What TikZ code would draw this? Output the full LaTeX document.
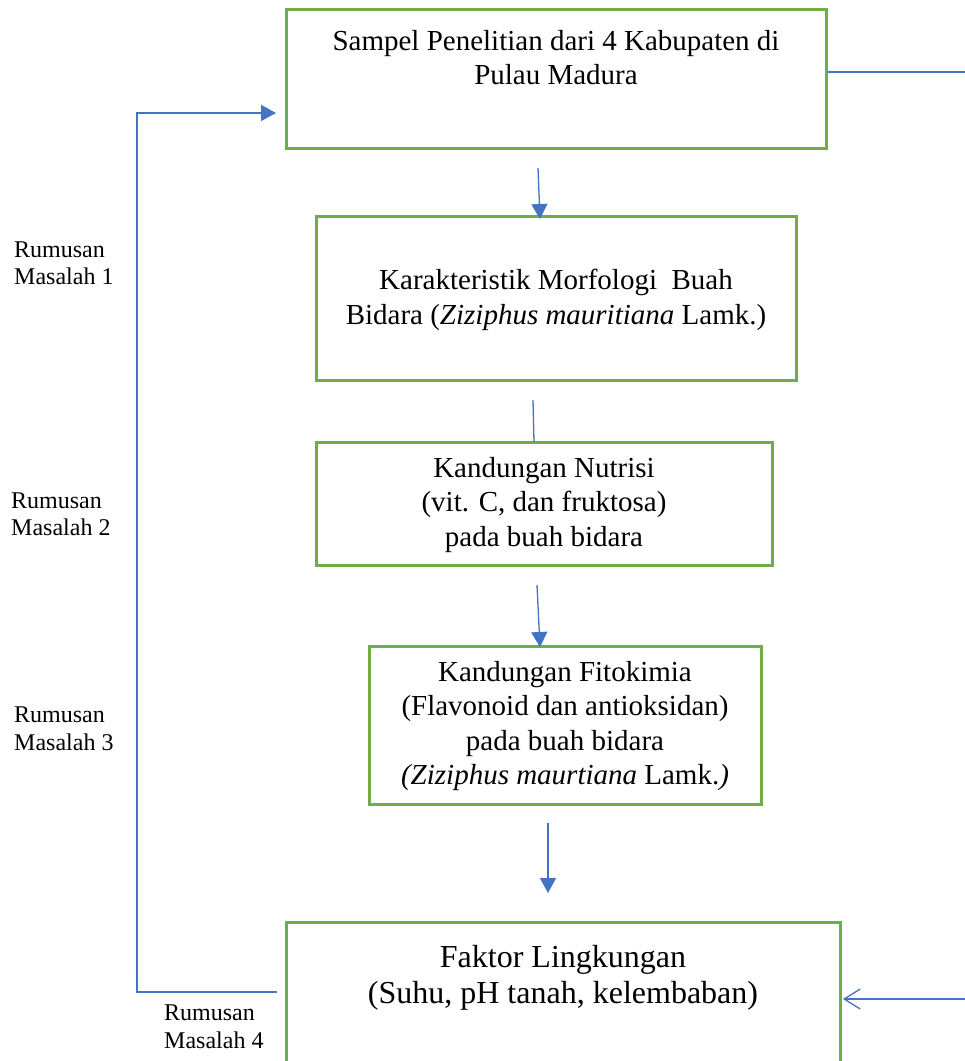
\documentclass[tikz,border=0pt]{standalone}
\usepackage{fontspec}
\setmainfont{Liberation Serif}
\usetikzlibrary{arrows.meta}
\definecolor{grn}{HTML}{70AD47}
\definecolor{blu}{HTML}{4472C4}
\begin{document}
\begin{tikzpicture}[x=1pt,y=-1pt,
  box/.style={draw=grn, line width=3pt, inner sep=0pt},
  txt/.style={align=center, font=\fontsize{29}{34.5}\selectfont, inner sep=0pt},
  bigtxt/.style={align=center, font=\fontsize{32}{36}\selectfont, inner sep=0pt},
  conn/.style={draw=blu, line width=1.3pt},
  tip/.style={-{Triangle[length=15pt,width=16pt]}},
  opentip/.style={-{Straight Barb[length=16pt,width=20pt,line width=1.3pt]}},
  lbl/.style={align=left, font=\fontsize{24}{27.5}\selectfont, inner sep=0pt, anchor=west}]
\useasboundingbox (0,0) rectangle (965,1061);
\clip (0,0) rectangle (965,1061);
\fill[white] (0,0) rectangle (965,1061);

% boxes
\node[box, minimum width=540pt, minimum height=139pt] (b1) at (556,78.5) {};
\node[box, minimum width=480pt, minimum height=164pt] (b2) at (556,298) {};
\node[box, minimum width=456pt, minimum height=123pt] (b3) at (544,503.5) {};
\node[box, minimum width=392pt, minimum height=158pt] (b4) at (565,725) {};
\node[box, minimum width=554pt, minimum height=180pt] (b5) at (563,1012) {};

% texts
\node[txt] (t1) at (556,57.5) {Sampel Penelitian dari 4 Kabupaten di\\Pulau Madura};
\node[txt] (t2) at (556,300) {Karakteristik Morfologi\ \ Buah\\Bidara (\textit{Ziziphus mauritiana} Lamk.)};
\node[txt] (t3) at (544,505) {Kandungan Nutrisi\\(vit. C, dan fruktosa)\\pada buah bidara};
\node[txt] (t4) at (565,726) {Kandungan Fitokimia\\(Flavonoid dan antioksidan)\\pada buah bidara\\\textit{(Ziziphus maurtiana} Lamk.\textit{)}};
\node[bigtxt] (t5) at (563,978) {Faktor Lingkungan\\(Suhu, pH tanah, kelembaban)};

% labels
\node[lbl] (m1) at (14,263.5) {Rumusan\\Masalah 1};
\node[lbl] (m2) at (11,514) {Rumusan\\Masalah 2};
\node[lbl] (m3) at (14,728.5) {Rumusan\\Masalah 3};
\node[lbl] (m4) at (164,1026.5) {Rumusan\\Masalah 4};

% connector coordinates
\coordinate (a1s) at (538,168);
\coordinate (a1e) at (540,219);
\coordinate (a2s) at (533,400);
\coordinate (a2e) at (534,442);
\coordinate (a3s) at (537,585);
\coordinate (a3e) at (540,647);
\coordinate (a4s) at (548,823);
\coordinate (a4e) at (548,893);
\coordinate (l0) at (277,992);
\coordinate (l1) at (137,992);
\coordinate (l2) at (137,113);
\coordinate (l3) at (276,113);
\coordinate (r1) at (966,72);
\coordinate (r2) at (966,999);

% connectors
\draw[conn, tip] (a1s) -- (a1e);
\draw[conn] (a2s) -- (a2e);
\draw[conn, tip] (a3s) -- (a3e);
\draw[conn, tip] (a4s) -- (a4e);
\draw[conn, tip] (l0) -- (l1) -- (l2) -- (l3);
\draw[conn] (b1.east |- r1) -- (r1);
\draw[conn, opentip] (r2) -- ([xshift=1.5pt]b5.east |- r2);
\end{tikzpicture}
\end{document}
